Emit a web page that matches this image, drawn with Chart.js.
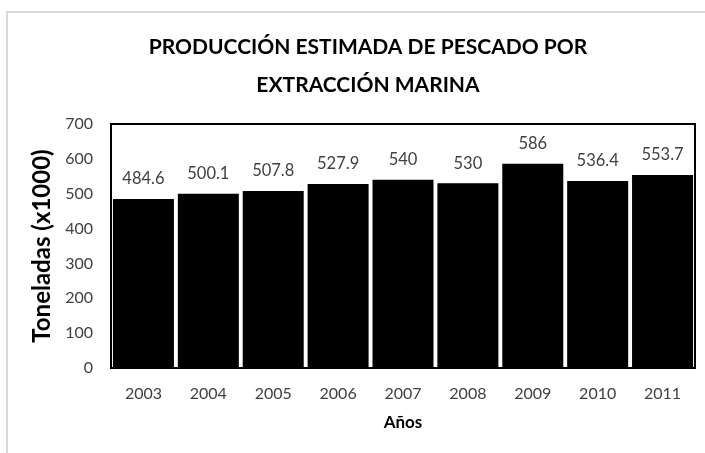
<!DOCTYPE html>
<html>
<head>
<meta charset="utf-8">
<script src="https://cdn.jsdelivr.net/npm/chart.js@4"></script>
<style>
  html, body { margin: 0; padding: 0; background: #fff; }
  #wrap { width: 705px; height: 453px; }
</style>
</head>
<body>
<div id="wrap"><canvas id="chart" width="705" height="453"></canvas></div>
<script>
const years = ['2003', '2004', '2005', '2006', '2007', '2008', '2009', '2010', '2011'];
const toneladas = [484.6, 500.1, 507.8, 527.9, 540, 530, 586, 536.4, 553.7];
const titleLines = ['PRODUCCIÓN ESTIMADA DE PESCADO POR', 'EXTRACCIÓN MARINA'];

const fontFamily = 'Lato, "Open Sans", sans-serif';

// light grey frame of the chart object, the title, and black box round the plot area
const framePlugin = {
    id: 'frame',
    beforeDraw(chart) {
        const ctx = chart.ctx;
        ctx.save();
        ctx.strokeStyle = '#d9d9d9';
        ctx.lineWidth = 2;
        ctx.strokeRect(7, 12, 800, 600);
        // title, centred over the whole chart object
        ctx.fillStyle = '#000';
        ctx.font = 'bold 21px ' + fontFamily;
        ctx.textAlign = 'center';
        ctx.textBaseline = 'middle';
        titleLines.forEach((line, i) => ctx.fillText(line, 368, 47 + i * 38));
        ctx.restore();
    },
    afterDatasetsDraw(chart) {
        const a = chart.chartArea;
        const ctx = chart.ctx;
        ctx.save();
        ctx.strokeStyle = '#000';
        ctx.lineWidth = 2;
        ctx.strokeRect(a.left, a.top, a.right - a.left, a.bottom - a.top);
        ctx.restore();
    }
};

// value labels above each bar
const valueLabels = {
    id: 'valueLabels',
    afterDatasetsDraw(chart) {
        const ctx = chart.ctx;
        const meta = chart.getDatasetMeta(0);
        ctx.save();
        ctx.font = '16.5px ' + fontFamily;
        ctx.fillStyle = '#404040';
        ctx.textAlign = 'center';
        ctx.textBaseline = 'middle';
        meta.data.forEach((bar, i) => {
            ctx.fillText(String(toneladas[i]), bar.x, bar.y - 20);
        });
        ctx.restore();
    }
};

new Chart(document.getElementById('chart'), {
    type: 'bar',
    data: {
        labels: years,
        datasets: [{
            data: toneladas,
            backgroundColor: '#000',
            borderWidth: 0,
            barPercentage: 0.94,
            categoryPercentage: 1
        }]
    },
    options: {
        responsive: false,
        animation: false,
        layout: { padding: { left: 28, right: 10, top: 124, bottom: 20 } },
        plugins: {
            legend: { display: false },
            tooltip: { enabled: false },
            title: { display: false }
        },
        scales: {
            x: {
                grid: { display: false },
                border: { display: false },
                ticks: { color: '#404040', font: { family: fontFamily, size: 16 }, padding: 8 },
                title: {
                    display: true,
                    text: 'Años',
                    color: '#000',
                    font: { family: fontFamily, size: 17, weight: 'bold' },
                    padding: { top: 4, bottom: 0 }
                },
                afterFit(s) { s.height = 65; }
            },
            y: {
                min: 0,
                max: 700,
                ticks: { stepSize: 100, color: '#404040', font: { family: fontFamily, size: 16 }, padding: 10 },
                grid: { display: false },
                border: { display: false },
                title: {
                    display: true,
                    text: 'Toneladas (x1000)',
                    color: '#000',
                    font: { family: fontFamily, size: 24, weight: 'bold' },
                    padding: { top: 0, bottom: 8 }
                },
                afterFit(s) { s.width = 83; }
            }
        }
    },
    plugins: [framePlugin, valueLabels]
});
</script>
</body>
</html>
